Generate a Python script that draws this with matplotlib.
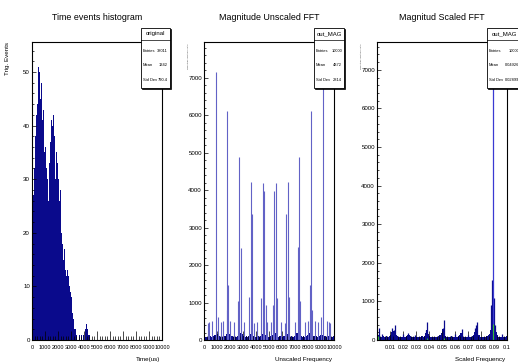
import numpy as np
import matplotlib.pyplot as plt
from matplotlib.ticker import MultipleLocator, FuncFormatter
from matplotlib.patches import Rectangle
from matplotlib.lines import Line2D

plt.rcParams['font.family'] = ['Liberation Sans Narrow', 'Liberation Sans', 'DejaVu Sans']

W, H = 518, 363

# --- pad 1: time events histogram (50 us bins, 0..5000) ---
time_bin_width = 50
time_counts = [
    26, 29, 27, 32, 31, 38, 42, 47, 44, 51, 46, 50, 53, 45, 48, 42, 41, 43, 37, 35,
    36, 33, 32, 30, 31, 26, 33, 39, 37, 41, 38, 40, 36, 42, 38, 33, 30, 35, 32, 33,
    30, 29, 26, 28, 22, 20, 18, 16, 15, 17, 14, 13, 16, 12, 13, 11, 12, 10, 11, 9,
    8, 7, 5, 4, 3, 2, 2, 1, 1, 0, 1, 0, 0, 1, 0, 2, 1, 0, 1, 1,
    0, 1, 2, 3, 1, 2, 1, 0, 1, 0, 1, 0, 1, 0, 0, 1, 0, 0, 1, 0,
]

# --- pad 2: unscaled FFT magnitude ---
unscaled_bin_width = 100
unscaled_floor = [
    110, 70, 90, 80, 100, 70, 95, 120, 140, 180,
    160, 110, 80, 95, 75, 100, 120, 150, 190, 170,
    130, 95, 80, 100, 75, 110, 140, 190, 200, 150,
    110, 80, 95, 75, 115, 160, 200, 165, 115, 90,
    75, 95, 80, 110, 150, 200, 180, 130, 100, 80,
    80, 100, 130, 180, 200, 150, 110, 80, 95, 75,
    90, 115, 165, 200, 160, 115, 75, 95, 80, 110,
    150, 200, 190, 140, 110, 75, 100, 80, 95, 130,
    170, 190, 145, 115, 100, 75, 95, 80, 110, 140,
    180, 140, 115, 100, 75, 95, 80, 90, 70, 110,
]
unscaled_line_freq = [
    300, 420, 590, 923, 1050, 1270, 1460, 1740, 1795, 1870, 2030, 2290, 2620, 2718,
    2820, 3060, 3460, 3615, 3718, 3830, 4100, 4380, 4513, 4615, 4740, 4850, 5180,
    5290, 5410, 5513, 5640, 5930, 6200, 6308, 6436, 6570, 6970, 7210, 7308, 7410,
    7740, 8000, 8160, 8230, 8290, 8570, 8760, 8980, 9128, 9440, 9610, 9730,
]
unscaled_line_mag = [
    450, 480, 500, 7150, 620, 480, 500, 800, 6100, 1470, 500, 480, 1050, 4880,
    2450, 480, 1150, 4220, 3360, 460, 480, 1120, 4190, 3980, 930, 470, 470,
    930, 3980, 4190, 1120, 480, 460, 3360, 4220, 1150, 480, 2490, 4880, 1050,
    480, 500, 1470, 6100, 800, 500, 480, 620, 7570, 500, 480, 450,
]

# --- pad 3: scaled FFT magnitude ---
scaled_bin_width = 0.001
scaled_floor = [
    180, 120, 90, 80, 95, 70, 85, 100, 90, 110,
    140, 200, 240, 210, 130, 95, 80, 90, 75, 85,
    100, 85, 110, 120, 140, 100, 80, 75, 90, 80,
    85, 75, 90, 80, 100, 85, 110, 180, 260, 160,
    100, 80, 90, 75, 85, 90, 80, 100, 120, 190,
    280, 180, 110, 80, 90, 75, 85, 100, 90, 80,
    90, 85, 110, 130, 180, 120, 90, 75, 80, 90,
    85, 80, 90, 100, 130, 220, 260, 240, 130, 90,
    80, 75, 85, 90, 100, 120, 160, 260, 600, 1000,
    500, 200, 120, 90, 80, 75, 85, 90, 80, 100,
]
scaled_line_freq = [0.0012, 0.0035, 0.0119, 0.0128, 0.0137, 0.0200, 0.0240, 0.0290,
                    0.0375, 0.0383, 0.0505, 0.0512, 0.0600, 0.0650, 0.0700, 0.0752,
                    0.0758, 0.0770, 0.0880, 0.0886, 0.0899, 0.0905, 0.0960]
scaled_line_mag = [310, 150, 310, 260, 390, 150, 180, 140,
                   260, 475, 300, 520, 150, 285, 140, 300,
                   390, 475, 900, 1550, 1100, 400, 150]
scaled_top_freq = [0.0893]
scaled_top_mag = [7350]
scaled_green_freq = [0.0008, 0.0383, 0.0512, 0.0893]
scaled_green_mag = [110, 60, 60, 420]

titles = ['Time events histogram', 'Magnitude Unscaled FFT', 'Magnitud Scaled FFT']
xtitles = ['Time(us)', 'Unscaled Frequency', 'Scaled Frequency']
stat_names = ['original', 'out_MAG', 'out_MAG']
stat_rows = [
    [('Entries', '38011'), ('Mean', '1342'), ('Std Dev', '790.4')],
    [('Entries', '10000'), ('Mean', '4872'), ('Std Dev', '2814')],
    [('Entries', '10000'), ('Mean', '0.04926'), ('Std Dev', '0.02899')],
]

navy = '#0a0a8c'
line_blue = '#6262c6'

fig = plt.figure(figsize=(W / 100, H / 100), dpi=100)


def make_frame(left_px, xmax, ymax, xmaj, xmin, ymaj, ymin):
    ax = fig.add_axes([left_px / W, 23 / H, 130 / W, 298 / H])
    ax.set_xlim(0, xmax)
    ax.set_ylim(0, ymax)
    ax.xaxis.set_major_locator(MultipleLocator(xmaj))
    ax.xaxis.set_minor_locator(MultipleLocator(xmin))
    ax.yaxis.set_major_locator(MultipleLocator(ymaj))
    ax.yaxis.set_minor_locator(MultipleLocator(ymin))
    ax.tick_params(axis='x', which='major', direction='in', length=6.5, width=0.5,
                   labelsize=4.1, pad=3.5)
    ax.tick_params(axis='x', which='minor', direction='in', length=3.2, width=0.5)
    ax.tick_params(axis='y', which='major', direction='in', length=2.8, width=0.5,
                   labelsize=4.4, pad=1.5)
    ax.tick_params(axis='y', which='minor', direction='in', length=1.4, width=0.5)
    for s in ax.spines.values():
        s.set_linewidth(0.8)
    return ax


def fx(x):
    return x / W


def fy(y):
    return 1 - y / H


def stats_box(x0, x1, name, rows, value_left=None):
    y0, y1 = 28, 88
    fig.add_artist(Rectangle((fx(x0 + 1), fy(y1 + 1)), (x1 - x0) / W, (y1 - y0) / H,
                             transform=fig.transFigure, fc='black', ec='black', lw=0.5))
    fig.add_artist(Rectangle((fx(x0), fy(y1)), (x1 - x0) / W, (y1 - y0) / H,
                             transform=fig.transFigure, fc='white', ec='black', lw=0.6))
    fig.add_artist(Line2D([fx(x0), fx(x1)], [fy(40), fy(40)],
                          transform=fig.transFigure, color='black', lw=0.5))
    fig.text(fx((x0 + x1) / 2), fy(34), name, fontsize=4.3, ha='center', va='center')
    for i, (lab, val) in enumerate(rows):
        yy = fy(51 + i * 14.5)
        fig.text(fx(x0 + 2), yy, lab, fontsize=2.9, ha='left', va='center')
        if value_left is None:
            fig.text(fx(x1 - 2), yy, val, fontsize=2.9, ha='right', va='center')
        else:
            fig.text(fx(value_left[i]), yy, val, fontsize=2.9, ha='left', va='center')


# pad 1
ax1 = make_frame(32, 10000, 55.6, 1000, 200, 10, 2)
t_edges = np.arange(len(time_counts)) * time_bin_width
ax1.bar(t_edges, time_counts, width=time_bin_width, align='edge', color=navy, lw=0)
ax1.xaxis.set_major_formatter(FuncFormatter(lambda v, p: '%d' % v))

# pad 2
ax2 = make_frame(204, 10000, 7950, 1000, 200, 1000, 200)
u_edges = np.arange(len(unscaled_floor)) * unscaled_bin_width
ax2.vlines(unscaled_line_freq, 0, unscaled_line_mag, colors=line_blue, lw=0.8)
ax2.bar(u_edges, unscaled_floor, width=unscaled_bin_width, align='edge', color=navy, lw=0)
ax2.xaxis.set_major_formatter(FuncFormatter(lambda v, p: '%d' % v))

# pad 3
ax3 = make_frame(377, 0.1, 7720, 0.01, 0.002, 1000, 200)
s_edges = np.arange(len(scaled_floor)) * scaled_bin_width
ax3.bar(s_edges, scaled_floor, width=scaled_bin_width, align='edge', color=navy, lw=0)
ax3.vlines(scaled_line_freq, 0, scaled_line_mag, colors=navy, lw=0.9)
ax3.vlines(scaled_top_freq, 0, scaled_top_mag, colors='#3a3ad2', lw=0.9)
ax3.vlines(scaled_green_freq, 0, scaled_green_mag, colors='#33bb33', lw=0.8)
ax3.xaxis.set_major_formatter(FuncFormatter(lambda v, p: '' if v < 1e-9 else '%g' % round(v, 3)))

for ax in (ax1, ax2, ax3):
    ax.yaxis.set_major_formatter(FuncFormatter(lambda v, p: '%d' % v))

# titles and axis titles
frame_lefts = [32, 204, 377]
for left, title, xt in zip(frame_lefts, titles, xtitles):
    fig.text(fx(left + 65), fy(17), title, fontsize=6.4, ha='center', va='center')
    fig.text(fx(left + 128), fy(360), xt, fontsize=4.5, ha='right', va='center')

fig.text(fx(7), fy(42), 'Trig. Events', fontsize=4.5, rotation=90, ha='center', va='top')
fig.text(fx(188), fy(43), 'Magnitude (arbitrary units)', fontsize=1.6, rotation=90,
         ha='center', va='top', color='#555555')
fig.text(fx(361), fy(43), 'Magnitude (arbitrary units)', fontsize=1.6, rotation=90,
         ha='center', va='top', color='#555555')

stats_box(141, 170, stat_names[0], stat_rows[0])
stats_box(314, 344, stat_names[1], stat_rows[1])
stats_box(487, 521, stat_names[2], stat_rows[2], value_left=[509, 505, 505])

fig.savefig('out.png', dpi=100, facecolor='white')
